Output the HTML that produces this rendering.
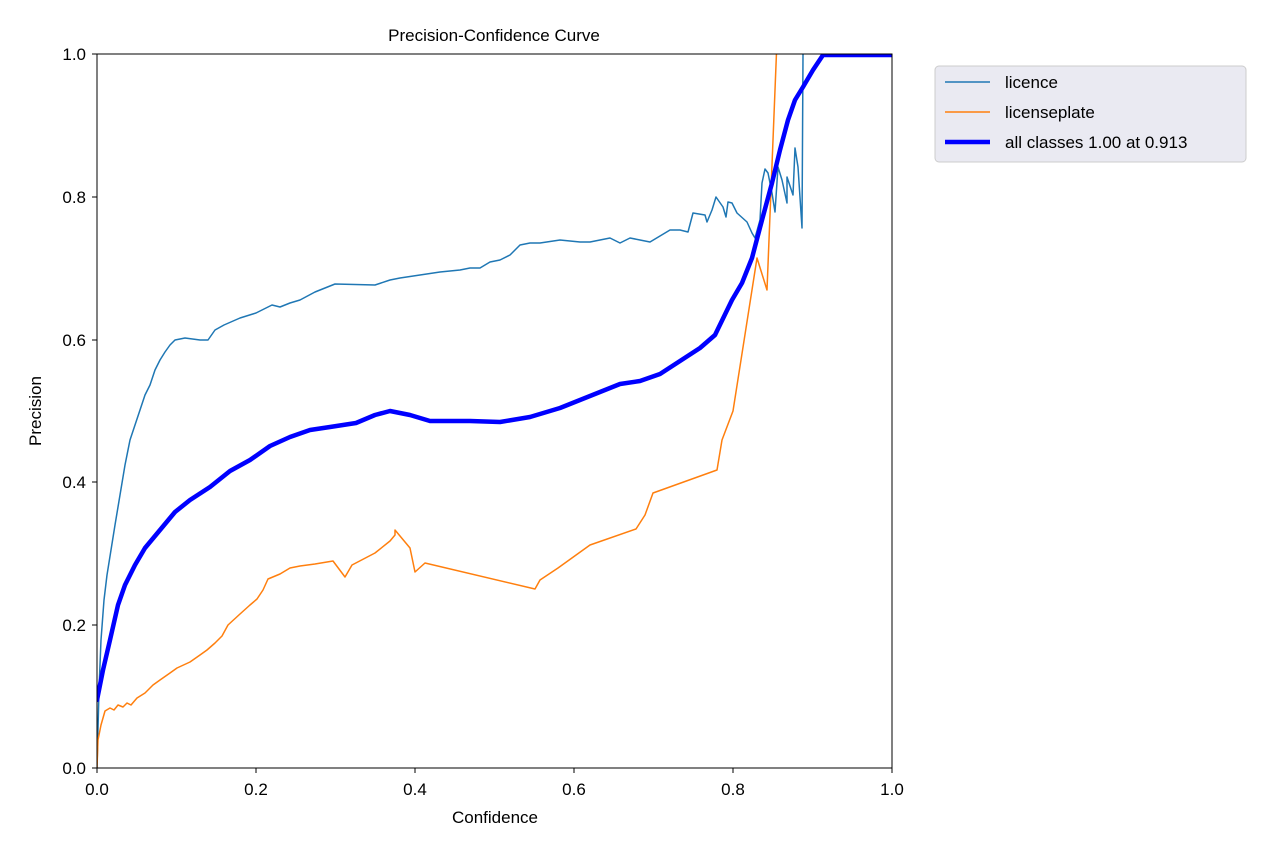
<!DOCTYPE html>
<html><head><meta charset="utf-8"><style>
body{margin:0;background:#fff;}
svg{display:block;font-family:"Liberation Sans","DejaVu Sans",sans-serif;}
</style></head><body>
<svg width="1280" height="853" viewBox="0 0 1280 853">
<rect width="1280" height="853" fill="#fff"/>
<defs><clipPath id="c"><rect x="97" y="54" width="795" height="714"/></clipPath></defs>
<g clip-path="url(#c)" fill="none" stroke-linejoin="round" stroke-linecap="round">
<polyline stroke="#1f77b4" stroke-width="1.5" points="97,768 99,690 101,640 104,600 107,575 111,550 115,525 120,495 125,465 130,440 135,425 140,410 145,395 150,385 155,370 160,360 165,352 170,345 175,340 185,338 200,340 208,340 215,330 224,325 240,318 256,313 272,305 280,307 290,303 300,300 315,292 325,288 335,284 375,285 390,280 400,278 420,275 440,272 460,270 470,268 480,268 490,262 500,260 510,255 520,245 530,243 540,243 560,240 580,242 590,242 600,240 610,238 620,243 630,238 640,240 650,242 660,236 670,230 680,230 688,232 693,213 705,215 707,222 712,210 716,197 723,207 726,217 728,202 732,203 737,213 747,222 752,233 755,238 760,220 762,183 765,169 768,173 772,193 775,212 778,167 782,180 787,203 787,177 793,195 795,148 798,167 802,228 803,55 803,40"/>
<polyline stroke="#ff7f0e" stroke-width="1.5" points="97,768 98,740 101,725 105,711 110,708 114,710 118,705 123,707 127,703 131,705 137,698 145,693 153,685 160,680 170,673 177,668 190,662 200,655 207,650 215,643 222,636 228,625 240,614 250,605 257,599 263,590 268,579 280,574 290,568 300,566 315,564 333,561 345,577 352,565 375,553 390,541 395,535 395,530 410,548 415,572 425,563 535,589 540,580 558,568 590,545 636,529 645,515 653,493 717,470 722,440 733,411 757,258 767,290 777,40"/>
<polyline stroke="#0000ff" stroke-width="4.5" points="97,700 103,670 110,640 118,605 125,585 135,565 145,548 160,530 175,512 190,500 210,487 230,471 250,460 270,446 290,437 310,430 330,427 356,423 375,415 390,411 410,415 430,421 470,421 500,422 530,417 560,408 580,400 600,392 620,384 640,381 660,374 680,361 700,348 715,335 732,300 742,283 752,258 762,220 772,183 780,150 788,120 795,100 803,87 813,70 823,55 892,55"/>
</g>
<rect x="97" y="54" width="795" height="714" fill="none" stroke="#000" stroke-width="1"/>
<g stroke="#000" stroke-width="1">
<line x1="97" y1="768" x2="97" y2="773"/><line x1="256" y1="768" x2="256" y2="773"/><line x1="415" y1="768" x2="415" y2="773"/><line x1="574" y1="768" x2="574" y2="773"/><line x1="733" y1="768" x2="733" y2="773"/><line x1="892" y1="768" x2="892" y2="773"/>
<line x1="92" y1="768" x2="97" y2="768"/><line x1="92" y1="625" x2="97" y2="625"/><line x1="92" y1="482" x2="97" y2="482"/><line x1="92" y1="340" x2="97" y2="340"/><line x1="92" y1="197" x2="97" y2="197"/><line x1="92" y1="54" x2="97" y2="54"/>
</g>
<g font-size="17" fill="#000" text-anchor="middle">
<text x="97" y="795">0.0</text><text x="256" y="795">0.2</text><text x="415" y="795">0.4</text><text x="574" y="795">0.6</text><text x="733" y="795">0.8</text><text x="892" y="795">1.0</text>
<text x="495" y="823">Confidence</text>
<text x="494" y="41">Precision-Confidence Curve</text>
</g>
<g font-size="17" fill="#000" text-anchor="end">
<text x="86" y="774">0.0</text><text x="86" y="631">0.2</text><text x="86" y="488">0.4</text><text x="86" y="346">0.6</text><text x="86" y="203">0.8</text><text x="86" y="60">1.0</text>
</g>
<text x="41" y="411" font-size="17" text-anchor="middle" transform="rotate(-90 41 411)">Precision</text>
<rect x="935" y="66" width="311" height="96" rx="4" fill="#eaeaf2" stroke="#ccc"/>
<line x1="945" y1="82" x2="990" y2="82" stroke="#1f77b4" stroke-width="1.5"/>
<line x1="945" y1="112" x2="990" y2="112" stroke="#ff7f0e" stroke-width="1.5"/>
<line x1="945" y1="142" x2="990" y2="142" stroke="#0000ff" stroke-width="4.5"/>
<g font-size="17" fill="#000">
<text x="1005" y="88">licence</text><text x="1005" y="118">licenseplate</text><text x="1005" y="148">all classes 1.00 at 0.913</text>
</g>
</svg>
</body></html>
